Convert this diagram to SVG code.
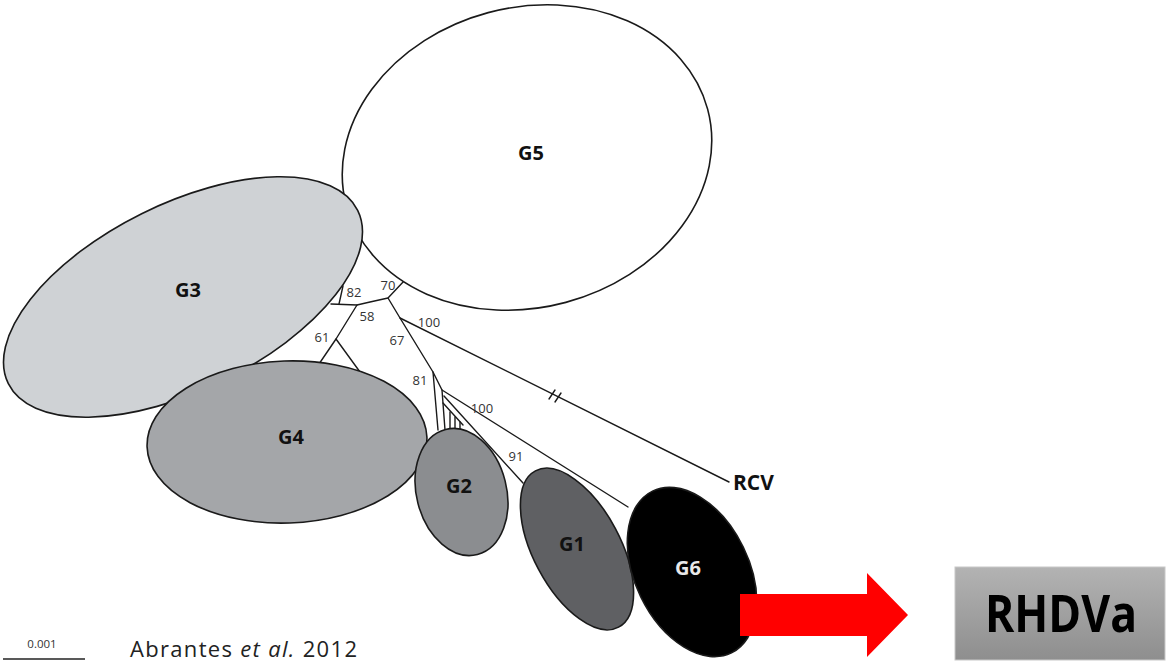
<svg xmlns="http://www.w3.org/2000/svg" width="1167" height="662" viewBox="0 0 1167 662">
<defs>
<linearGradient id="boxGrad" x1="0" y1="0" x2="0" y2="1">
<stop offset="0" stop-color="#b3b3b3"/>
<stop offset="1" stop-color="#8e8e8e"/>
</linearGradient>
</defs>
<style>
.clade{stroke:#1a1a1a;stroke-width:1.6}
.lbl{font-family:"Open Sans","Liberation Sans",sans-serif;font-weight:bold;font-size:20px;fill:#111;text-anchor:middle}
.br{stroke:#1a1a1a;stroke-width:1.4;fill:none;stroke-linecap:round;stroke-linejoin:round}
.bs{font-family:"Open Sans","Liberation Sans",sans-serif;font-size:13px;fill:#333;text-anchor:middle}
</style>
<rect width="1167" height="662" fill="#ffffff"/>

<g id="connectors">
<polyline class="br" points="404,281 388,298 370,302 357,305 331,304"/>
<line class="br" x1="339" y1="304" x2="343" y2="286"/>
<polyline class="br" points="319,364 336,339 360,372"/>
<line class="br" x1="357" y1="305" x2="336" y2="339"/>
<polyline class="br" points="388,298 400,318 433,372 438,430"/>
<line class="br" x1="400" y1="318" x2="729" y2="482"/>
<line class="br" x1="549" y1="399" x2="555" y2="390"/>
<line class="br" x1="555" y1="402" x2="561" y2="393"/>
<polyline class="br" points="433,372 442,390 445,430"/>
<line class="br" x1="442" y1="390" x2="628" y2="507"/>
<line class="br" x1="444" y1="396" x2="523" y2="483"/>
<polyline class="br" points="443,403 463,425"/>
<line class="br" x1="450" y1="412" x2="450" y2="428"/>
<line class="br" x1="455" y1="417" x2="455" y2="428"/>
<line class="br" x1="460" y1="422" x2="460" y2="429"/>
</g>

<g id="G5">
<ellipse class="clade" cx="527" cy="157.5" rx="187" ry="150" transform="rotate(-15 527 157.5)" fill="#ffffff"/>
<text class="lbl" x="531" y="160">G5</text>
</g>
<g id="G3">
<ellipse class="clade" cx="183" cy="297" rx="195" ry="93" transform="rotate(-26.4 183 297)" fill="#cfd2d5"/>
<text class="lbl" x="188" y="297">G3</text>
</g>
<g id="G4">
<ellipse class="clade" cx="287" cy="442" rx="140" ry="81" transform="rotate(-2 287 442)" fill="#a4a6a9"/>
<text class="lbl" x="291" y="444">G4</text>
</g>
<g id="G2">
<ellipse class="clade" cx="461.5" cy="492" rx="45" ry="64.5" transform="rotate(-14.3 461.5 492)" fill="#8b8d90"/>
<text class="lbl" x="459" y="493">G2</text>
</g>
<g id="G1">
<ellipse class="clade" cx="577" cy="549" rx="43.5" ry="88.5" transform="rotate(-28 577 549)" fill="#5f6063"/>
<text class="lbl" x="572" y="551">G1</text>
</g>
<g id="G6">
<ellipse class="clade" cx="692" cy="572" rx="57" ry="90" transform="rotate(-26 692 572)" fill="#000000"/>
<text class="lbl" x="688" y="575" style="fill:#e8e8e8">G6</text>
</g>

<g id="bootstrap">
<text class="bs" x="354" y="297">82</text>
<text class="bs" x="388" y="290">70</text>
<text class="bs" x="367" y="321">58</text>
<text class="bs" x="322" y="342">61</text>
<text class="bs" x="429" y="327">100</text>
<text class="bs" x="397" y="345">67</text>
<text class="bs" x="420" y="385">81</text>
<text class="bs" x="482" y="413">100</text>
<text class="bs" x="516" y="461">91</text>
</g>

<g id="RCV">
<text x="733" y="490" font-family="Open Sans, Liberation Sans, sans-serif" font-weight="bold" font-size="21" fill="#111">RCV</text>
</g>

<g id="arrow">
<polygon points="740,594 867,594 867,573 908,615 867,657 867,636 740,636" fill="#ff0000"/>
</g>

<g id="RHDVa">
<rect x="955" y="567" width="210" height="93" fill="url(#boxGrad)" stroke="#c8c8c8" stroke-width="1"/>
<text x="985" y="632" font-family="Open Sans, Liberation Sans, sans-serif" font-weight="bold" font-size="52" fill="#000" textLength="152" lengthAdjust="spacingAndGlyphs">RHDVa</text>
</g>

<g id="scale">
<line x1="3" y1="659" x2="85" y2="659" stroke="#222" stroke-width="1.3"/>
<text x="42" y="648" font-family="Open Sans, Liberation Sans, sans-serif" font-size="11.5" fill="#333" text-anchor="middle">0.001</text>
</g>
<g id="citation">
<text x="130" y="657" font-family="Open Sans, Liberation Sans, sans-serif" font-size="22" fill="#222" textLength="227">Abrantes <tspan font-style="italic">et al.</tspan> 2012</text>
</g>
</svg>
